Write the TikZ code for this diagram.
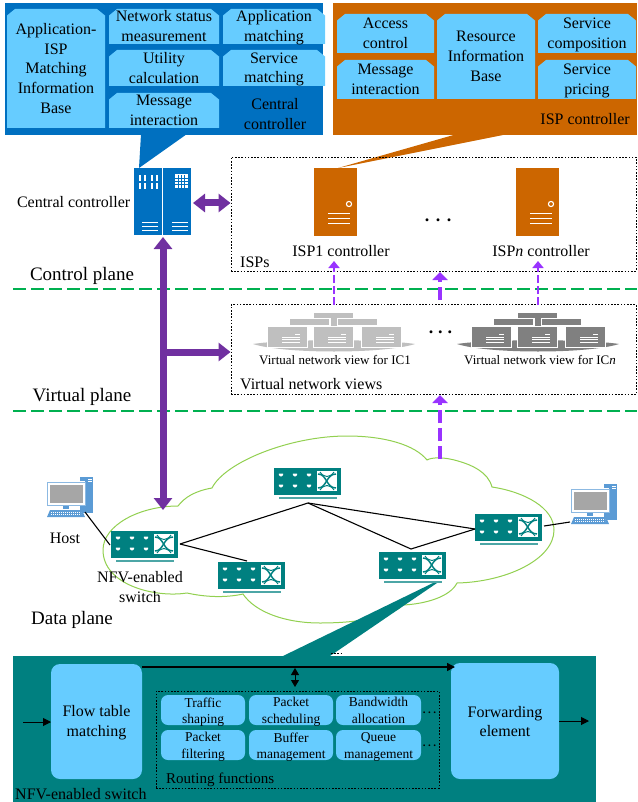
\documentclass[tikz,border=0pt]{standalone}
\usepackage{fontspec}
\setmainfont{Liberation Serif}
\usetikzlibrary{arrows.meta,calc}
\definecolor{cblue}{HTML}{0070C0}
\definecolor{corange}{HTML}{CC6600}
\definecolor{cteal}{HTML}{008080}
\definecolor{clight}{HTML}{66CCFF}
\definecolor{cpurple}{HTML}{7030A0}
\definecolor{cviolet}{HTML}{9933FF}
\definecolor{cplane}{HTML}{00B050}
\definecolor{ccloud}{HTML}{92D050}
\definecolor{chost}{HTML}{5B9BD5}
\newcommand{\fs}[2]{\fontsize{#1}{#2}\selectfont}
\newcommand{\ph}{\vphantom{Ag}}
\tikzset{
  txt/.style={inner sep=0pt,align=center,text=black,font=\fs{16}{19.7}},
  small/.style={inner sep=0pt,align=center,text=black,font=\fs{13.5}{16.5}},
  plane/.style={inner sep=0pt,text=black,font=\fs{19}{21}},
  viewlabel/.style={inner sep=0pt,text=black,font=\fs{13}{15}},
  dotrow/.style={inner sep=0pt,anchor=base,text=black,font=\bfseries\fs{18}{20}},
  dotbox/.style={draw=black,line width=0.9pt,dash pattern=on 1.6pt off 1.6pt},
  planeline/.style={draw=cplane,line width=1.3pt,dash pattern=on 13pt off 5pt},
  block/.style={draw=cpurple,line width=7pt,-{Triangle[width=18pt,length=12pt]}},
  blockboth/.style={draw=cpurple,line width=7pt,{Triangle[width=18pt,length=12pt]}-{Triangle[width=18pt,length=12pt]}},
  vthin/.style={draw=cviolet,line width=2.6pt,dash pattern=on 8pt off 3pt,-{Triangle[width=11pt,length=7pt]}},
  vthick/.style={draw=cviolet,line width=4pt,dash pattern=on 13pt off 5pt,-{Triangle[width=15pt,length=8pt]}},
  link/.style={draw=black,line width=1.1pt},
  switchpic/.pic={
    \fill[cteal] (0,0) rectangle (67,27);
    \fill[cteal!70] (5,29.3) rectangle (63,30.5);
    \foreach \dx in {7,21,35} \foreach \dy in {7,18}
      \fill[white] (\dx-2.2,\dy-1.4) -- (\dx+2.2,\dy-1.4) -- (\dx+2.2,\dy) -- (\dx+0.8,\dy+1.4) -- (\dx-0.8,\dy+1.4) -- (\dx-2.2,\dy) -- cycle;
    \fill[white] (43,3) rectangle (63,23);
    \draw[cteal,line width=1.5pt] (44,6) .. controls (53,6) and (52,20) .. (62,20);
    \draw[cteal,line width=1.5pt] (44,20) .. controls (53,20) and (52,6) .. (62,6);
    \draw[cteal,line width=1pt] (46,4) .. controls (50,10) and (56,10) .. (60,4);
    \draw[cteal,line width=1pt] (46,22) .. controls (50,16) and (56,16) .. (60,22);
  },
  hostpic/.pic={
    \fill[chost] (33,-5) rectangle (46,31);
    \fill[white] (41,-3) rectangle (44.5,-2.2);
    \fill[white] (41,-1) rectangle (44.5,-0.2);
    \fill[white] (0,-1) rectangle (38,24);
    \draw[chost!70,line width=1pt] (0,0) rectangle (38,23);
    \fill[black!35] (2.5,2.5) rectangle (35.5,20.5);
    \fill[chost] (16,24) rectangle (22,27);
    \fill[chost] (3,28) -- (35,28) -- (38,35) -- (0,35) -- cycle;
    \foreach \r in {30,32.5} \draw[white,line width=0.7pt,dash pattern=on 1.2pt off 0.8pt] (4,\r) -- (34,\r);
  },
  srvpic/.pic={
    \fill[corange] (0,0) rectangle (43,68);
    \draw[white,line width=1.1pt] (35,36) circle (2.6);
    \foreach \r in {45.5,50.5,56} \draw[white,line width=1pt] (14,\r) -- (36,\r);
  },
  viewpic/.pic={
    \fill[pic actions] (-81,0) .. controls (-50,-5) and (50,-5) .. (81,0) .. controls (50,10) and (-50,10) .. (-81,0) -- cycle;
    \fill[pic actions] (-20,-31) rectangle (19,-26);
    \fill[pic actions] (-44,-25) rectangle (-5,-19);
    \fill[pic actions] (4,-25) rectangle (43,-19);
    \fill[pic actions] (-3,-26) rectangle (3,-15);
    \draw[white,line width=0.9pt] (-30,-5) -- (30,-5);
    \foreach \ox in {-67,-21,27} {
      \fill[pic actions,draw=white,line width=0.9pt] (\ox,-18) rectangle (\ox+40.5,3);
      \fill[white] (\ox+28,-10) rectangle (\ox+33,-8.6);
      \foreach \r in {-6.8,-4.6,-2.4} \fill[white] (\ox+15,\r) rectangle (\ox+33,\r+0.9);
    }
  },
}
\newcommand{\snip}[6]{% name x1 y1 x2 y2 text
  \fill[clight] (#2,#5) -- (#2,#3+6.5) -- (#2+8,#3) -- (#4-8,#3) -- (#4,#3+6.5) -- (#4,#5) -- cycle;
  \node[txt] (#1) at ({(#2+#4)/2},{(#3+#5)/2+1.5}) {\ph #6\ph};
}
\newcommand{\rbox}[6]{% name x1 y1 x2 y2 text
  \fill[clight,rounded corners=7pt] (#2,#3) rectangle (#4,#5);
  \node[small] (#1) at ({(#2+#4)/2},{(#3+#5)/2+2}) {\ph #6\ph};
}
\begin{document}
\begin{tikzpicture}[x=1pt,y=-1pt]
\useasboundingbox (0,0) rectangle (637,802);
% callouts and panels
\fill[cblue] (5,3) rectangle (323,135);
\fill[cblue] (141,134) -- (187,134) -- (139,168) -- cycle;
\fill[corange] (333,3) rectangle (637,135);
\fill[corange] (457,134) -- (508,134) -- (338,168) -- cycle;
\snip{aimib}{7}{9}{105}{128}{Application-\\ISP\\Matching\\Information\\Base}
\snip{nsm}{109}{9}{219}{44}{Network status\\measurement}
\snip{appm}{223}{9}{325}{44}{Application\\matching}
\snip{util}{109}{50}{219}{86}{Utility\\calculation}
\snip{svcm}{223}{50}{325}{86}{Service\\matching}
\snip{msgc}{109}{93}{219}{128}{Message\\interaction}
\node[txt] (cctitle) at (275,114) {Central\\controller};
\snip{acc}{337}{14}{434}{53}{Access\\control}
\snip{msgi}{337}{60}{434}{99}{Message\\interaction}
\snip{rib}{437}{14}{535}{99}{Resource\\Information\\Base}
\snip{comp}{538}{14}{636}{53}{Service\\composition}
\snip{pric}{538}{60}{636}{99}{Service\\pricing}
\node[txt,anchor=east] (isptitle) at (630,119) {ISP controller};
% dotted frames
\node[dotbox,inner sep=0pt,minimum width=405pt,minimum height=114pt] (ispbox) at (433.5,214) {};
\node[dotbox,inner sep=0pt,minimum width=405pt,minimum height=90pt] (viewbox) at (433.5,349.5) {};
% central controller server
\node[fill=cblue,inner sep=0pt,minimum width=28pt,minimum height=67pt] (ccl) at (148,201.5) {};
\node[fill=cblue,inner sep=0pt,minimum width=28pt,minimum height=67pt] (ccr) at (177.3,201.5) {};
\foreach \dx in {140,144.5,152,156.5} \foreach \dy in {175,183}
  \fill[white] (\dx-1,\dy) rectangle (\dx+1,\dy+6);
\fill[white] (175,174.5) rectangle (187.5,188.5);
\foreach \dx in {178,181,184} \draw[cblue,line width=0.4pt] (\dx,175) -- (\dx,188);
\foreach \dy in {178,181,184} \draw[cblue,line width=0.4pt] (175,\dy) -- (187.5,\dy);
\foreach \dx in {142,172} \foreach \dy in {223,226.5,230}
  \draw[white,line width=1pt] (\dx,\dy) -- (\dx+16,\dy);
\node[txt,anchor=east] (cclabel) at (130.5,202) {Central controller};
% ISP servers
\pic at (314,168) {srvpic};
\pic at (516,168) {srvpic};
\node[txt] (isp1l) at (341,251.5) {ISP1 controller};
\node[txt] (ispnl) at (541,251.5) {ISP\textit{n} controller};
\node[dotrow] (dots1) at (438,221.5) {.\hspace{6.5pt}.\hspace{6.5pt}.};
\node[txt,anchor=west] (ispsl) at (240,262) {ISPs};
% plane lines
\coordinate (pl1a) at (13,289); \coordinate (pl1b) at (637,289);
\coordinate (pl2a) at (13,411); \coordinate (pl2b) at (637,411);
\draw[planeline] (pl1a) -- (pl1b);
\draw[planeline] (pl2a) -- (pl2b);
\node[plane] (cpl) at (82,275.5) {Control plane};
\node[plane] (vpl) at (82,396.5) {Virtual plane};
\node[plane] (dpl) at (72,620) {Data plane};
% views
\pic[fill=black!25] at (334,344) {viewpic};
\pic[fill=black!50] at (538,344) {viewpic};
\node[viewlabel] (v1l) at (335,360) {Virtual network view for IC1};
\node[viewlabel] (vnl) at (540,360) {Virtual network view for IC\textit{n}};
\node[dotrow] (dots2) at (440.5,333.5) {.\hspace{5pt}.\hspace{5pt}.};
\node[txt,anchor=west] (vbl) at (240,384) {Virtual network views};
% cloud
\draw[ccloud,line width=1pt,fill=white] (178,506)
  .. controls (185,497) and (195,491) .. (212,488)
  .. controls (225,462) and (290,436) .. (347,436)
  .. controls (385,436) and (415,445) .. (427,460)
  .. controls (432,457) and (445,457) .. (458,461)
  .. controls (472,465) and (488,472) .. (492,487)
  .. controls (525,492) and (554,508) .. (554,530)
  .. controls (554,560) and (505,582) .. (457,583)
  .. controls (450,597) and (425,604) .. (403,605)
  .. controls (390,618) and (355,623) .. (320,623)
  .. controls (285,623) and (255,612) .. (243,594)
  .. controls (225,598) and (205,597) .. (187,593)
  .. controls (155,598) and (103,585) .. (103,550)
  .. controls (103,525) and (140,506) .. (178,506) -- cycle;
% hosts
\pic at (47,482) {hostpic};
\coordinate (h1) at (85,512);
\pic at (571,489) {hostpic};
\coordinate (h2) at (570,522);
% switches
\pic at (111,531) {switchpic};
\pic at (218,562) {switchpic};
\pic at (274,468) {switchpic};
\pic at (475,514) {switchpic};
\pic at (379,552) {switchpic};
\coordinate (s1) at (180,544);
\coordinate (s1l) at (110,545);
\coordinate (s2) at (247,561);
\coordinate (s3) at (308,503);
\coordinate (s4) at (411,549);
\coordinate (s5) at (475,529);
\coordinate (s5r) at (544,526);
\draw[link] (h1) -- (s1l);
\draw[link] (s1) -- (s3);
\draw[link] (s1) -- (s2);
\draw[link] (s3) -- (s5);
\draw[link] (s3) -- (s4) -- (s5);
\draw[link] (s5r) -- (h2);
\node[txt] (hostl) at (65,538) {Host};
\node[txt] (nfvl) at (140,587) {NFV-enabled\\switch};
% purple arrows
\coordinate (ccbot) at (163,237);
\coordinate (swtop) at (163,510);
\coordinate (branch) at (163,352);
\draw[blockboth] (193,203) -- (ispbox.west |- 0,203);
\draw[blockboth] (ccbot) -- (swtop);
\draw[block] (branch) -- (viewbox.west |- branch);
% violet arrows
\coordinate (a1a) at (334,305); \coordinate (a1b) at (334,261);
\coordinate (a2a) at (538,305); \coordinate (a2b) at (538,261);
\coordinate (a3a) at (440,300); \coordinate (a3b) at (440,272);
\coordinate (a4a) at (440,459); \coordinate (a4b) at (440,395);
\draw[vthin] (a1a) -- (a1b);
\draw[vthin] (a2a) -- (a2b);
\draw[vthick] (a3a) -- (a3b);
\draw[vthick] (a4a) -- (a4b);
% bottom panel
\fill[cteal] (433,583) -- (437,583) -- (330,656) -- (283,656) -- cycle;
\draw[black,line width=0.9pt,dash pattern=on 1.6pt off 1.6pt] (331,653) -- (343,653);
\fill[cteal] (13,656) rectangle (596,802);
\fill[clight,rounded corners=9pt] (51,664) rectangle (142,779);
\node[txt] (flow) at (96.5,723) {Flow table\\matching};
\fill[clight,rounded corners=9pt] (451,663) rectangle (559,779);
\node[txt] (fwd) at (505,721.5) {Forwarding\\element};
\coordinate (ftr) at (142,667); \coordinate (fwl) at (455,667);
\coordinate (in) at (23,722); \coordinate (ftl) at (51,722);
\coordinate (fwr) at (559,721); \coordinate (out) at (589,721);
\coordinate (bus) at (295,667); \coordinate (rtop) at (295,687);
\draw[black,line width=1.5pt,-{Triangle[width=8pt,length=8pt]}] (ftr) -- (fwl);
\draw[black,line width=1pt,-{Triangle[width=8pt,length=8pt]}] (in) -- (ftl);
\draw[black,line width=1pt,-{Triangle[width=8pt,length=8pt]}] (fwr) -- (out);
\draw[black,line width=1pt,{Triangle[width=8pt,length=7pt]}-{Triangle[width=8pt,length=7pt]}] (bus) ++(0,1) -- (rtop);
\node[dotbox,inner sep=0pt,minimum width=283pt,minimum height=97pt] (rbox) at (297.5,739.5) {};
\rbox{ts}{161}{695}{245}{725}{Traffic\\shaping}
\rbox{ps}{249}{695}{333}{725}{Packet\\scheduling}
\rbox{ba}{336}{695}{421}{725}{Bandwidth\\allocation}
\rbox{pf}{161}{730}{245}{760}{Packet\\filtering}
\rbox{bm}{249}{730}{333}{760}{Buffer\\management}
\rbox{qm}{336}{730}{421}{760}{Queue\\management}
\node[dotrow,font=\bfseries\fs{11}{13}] (d3) at (429.5,713.5) {.\hspace{2.5pt}.\hspace{2.5pt}.};
\node[dotrow,font=\bfseries\fs{11}{13}] (d4) at (429.5,746.5) {.\hspace{2.5pt}.\hspace{2.5pt}.};
\node[inner sep=0pt,text=black,font=\fs{15}{17},anchor=west] (rfl) at (166,780) {Routing functions};
\node[txt,anchor=west] (nfvt) at (15,794) {NFV-enabled switch};
\end{tikzpicture}
\end{document}
